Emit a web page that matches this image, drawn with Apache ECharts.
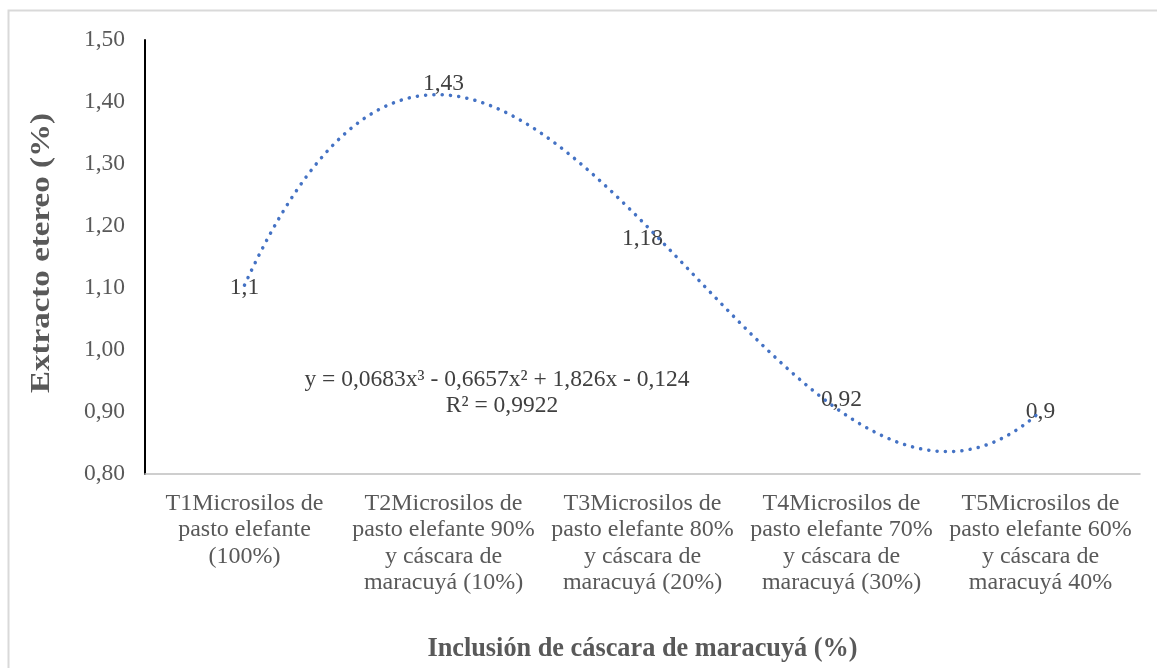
<!DOCTYPE html>
<html>
<head>
<meta charset="utf-8">
<script src="https://cdn.jsdelivr.net/npm/echarts@6/dist/echarts.min.js"></script>
<style>
  html, body { margin: 0; padding: 0; background: #fff; }
  #chart { width: 1157px; height: 668px; }
</style>
</head>
<body>
<div id="chart"></div>
<script>
// categorias del eje X (con los saltos de linea del original)
var categorias = [
  'T1Microsilos de\npasto elefante\n(100%)',
  'T2Microsilos de\npasto elefante 90%\ny cáscara de\nmaracuyá (10%)',
  'T3Microsilos de\npasto elefante 80%\ny cáscara de\nmaracuyá (20%)',
  'T4Microsilos de\npasto elefante 70%\ny cáscara de\nmaracuyá (30%)',
  'T5Microsilos de\npasto elefante 60%\ny cáscara de\nmaracuyá 40%'
];
// extracto etereo (%)
var extracto = [1.1, 1.43, 1.18, 0.92, 0.9];
// coeficientes de la linea de tendencia polinomica (x^3, x^2, x, c)
var coefTendencia = [0.0683, -0.6657, 1.826, -0.124];
var ecuacion = 'y = 0,0683x³ - 0,6657x² + 1,826x - 0,124';
var r2 = 'R² = 0,9922';
var ticksY = [0.8, 0.9, 1.0, 1.1, 1.2, 1.3, 1.4, 1.5];

// puntos de la tendencia, de x=1 a x=5 como en Excel
var tendencia = [];
for (var i = 0; i <= 200; i++) {
  var x = 1 + i * 0.02;
  var y = coefTendencia[0] * x * x * x + coefTendencia[1] * x * x + coefTendencia[2] * x + coefTendencia[3];
  tendencia.push([x, y]);
}

var fuente = '"Liberation Serif", "Times New Roman", serif';
var chart = echarts.init(document.getElementById('chart'));
chart.setOption({
  animation: false,
  backgroundColor: '#fff',
  grid: { left: 145, right: 17, top: 40, bottom: 194, containLabel: false, outerBoundsMode: 'none' },
  graphic: [
    {
      type: 'rect', z: -1, silent: true,
      shape: { x: 8.5, y: 10.5, width: 1160, height: 680 },
      style: { fill: 'none', stroke: '#D9D9D9', lineWidth: 2 }
    },
    {
      // titulo eje Y (algo estirado como en el original)
      type: 'text', z: 10, silent: true,
      x: 42, y: 253, rotation: Math.PI / 2, scaleX: 1.18,
      style: {
        text: 'Extracto etereo (%)', font: 'bold 28px ' + fuente, fill: '#595959',
        align: 'center', verticalAlign: 'middle'
      }
    },
    {
      type: 'text', z: 10, silent: true,
      x: 497, y: 380,
      style: { text: ecuacion, font: '23.5px ' + fuente, fill: '#404040', align: 'center', verticalAlign: 'middle' }
    },
    {
      type: 'text', z: 10, silent: true,
      x: 502, y: 406,
      style: { text: r2, font: '23.5px ' + fuente, fill: '#404040', align: 'center', verticalAlign: 'middle' }
    }
  ],
  xAxis: [
    {
      type: 'category',
      data: categorias,
      boundaryGap: true,
      name: 'Inclusión de cáscara de maracuyá (%)',
      nameLocation: 'middle',
      nameGap: 162,
      nameTextStyle: { fontFamily: fuente, fontSize: 26.3, fontWeight: 'bold', color: '#595959' },
      axisLine: { lineStyle: { color: '#BFBFBF', width: 1.5 } },
      axisTick: { show: false },
      axisLabel: {
        fontFamily: fuente, fontSize: 24, color: '#595959',
        lineHeight: 26.5, margin: 16, interval: 0
      },
      splitLine: { show: false }
    },
    {
      type: 'value', min: 0.5, max: 5.5, show: false
    }
  ],
  yAxis: {
    type: 'value',
    min: 0.8, max: 1.5, interval: 0.1,
    axisLine: { show: true, lineStyle: { color: '#000', width: 2 } },
    axisTick: { show: false },
    splitLine: { show: false },
    axisLabel: {
      fontFamily: fuente, fontSize: 23.5, color: '#595959', margin: 20,
      customValues: ticksY,
      formatter: function (v) { return v.toFixed(2).replace('.', ','); }
    }
  },
  series: [
    {
      name: 'Etiquetas',
      type: 'scatter',
      xAxisIndex: 0,
      data: extracto,
      symbolSize: 2,
      itemStyle: { color: 'rgba(255,255,255,0)' },
      z: 2,
      label: {
        show: true, position: 'inside', opacity: 1,
        fontFamily: fuente, fontSize: 23.5, color: '#404040',
        formatter: function (p) { return String(p.value).replace('.', ','); }
      }
    },
    {
      name: 'Tendencia',
      type: 'line',
      xAxisIndex: 1,
      data: tendencia,
      symbol: 'none',
      smooth: false,
      z: 3,
      lineStyle: { color: '#4472C4', width: 3.5, type: [0.1, 8.2], cap: 'round' }
    }
  ]
});
</script>
</body>
</html>
